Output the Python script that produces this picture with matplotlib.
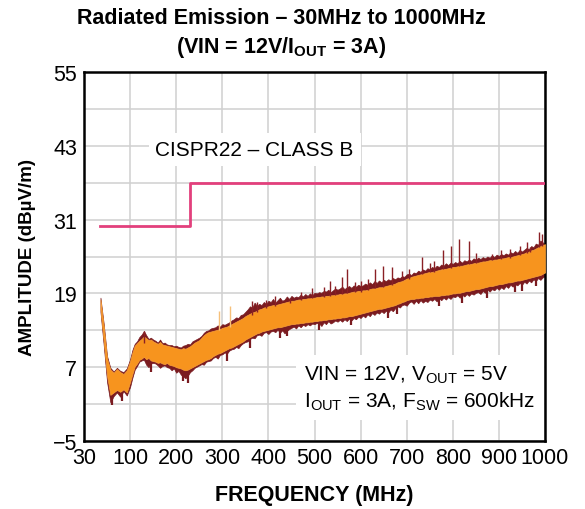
import numpy as np
import matplotlib
matplotlib.use("Agg")
import matplotlib.pyplot as plt

plt.rcParams['font.family'] = ['Liberation Sans', 'DejaVu Sans']
plt.rcParams['mathtext.fontset'] = 'custom'
plt.rcParams['mathtext.rm'] = 'Liberation Sans'
plt.rcParams['mathtext.bf'] = 'Liberation Sans:bold'

# ---------------- data ----------------
freq = [55, 60, 65, 70, 75, 80, 85, 90, 95, 100,
        105, 110, 115, 120, 125, 130, 135, 140, 145, 150,
        155, 160, 165, 170, 175, 180, 185, 190, 195, 200,
        205, 210, 215, 220, 225, 230, 235, 240, 245, 250,
        255, 260, 265, 270, 275, 280, 285, 290, 295, 300,
        305, 310, 315, 320, 325, 330, 335, 340, 345, 350,
        355, 360, 365, 370, 375, 380, 385, 390, 395, 400,
        405, 410, 415, 420, 425, 430, 435, 440, 445, 450,
        455, 460, 465, 470, 475, 480, 485, 490, 495, 500,
        505, 510, 515, 520, 525, 530, 535, 540, 545, 550,
        555, 560, 565, 570, 575, 580, 585, 590, 595, 600,
        605, 610, 615, 620, 625, 630, 635, 640, 645, 650,
        655, 660, 665, 670, 675, 680, 685, 690, 695, 700,
        705, 710, 715, 720, 725, 730, 735, 740, 745, 750,
        755, 760, 765, 770, 775, 780, 785, 790, 795, 800,
        805, 810, 815, 820, 825, 830, 835, 840, 845, 850,
        855, 860, 865, 870, 875, 880, 885, 890, 895, 900,
        905, 910, 915, 920, 925, 930, 935, 940, 945, 950,
        955, 960, 965, 970, 975, 980, 985, 990, 995, 1000]

# orange trace (band limits), dBuV/m
orange_lo = [16.4, 11.2, 5.6, 2.5, 2.9, 3.3, 3.0, 3.4, 2.9, 4.6,
             5.9, 7.1, 7.6, 8.2, 8.4, 8.7, 8.3, 8.5, 8.1, 8.0,
             7.9, 7.7, 7.8, 7.6, 7.5, 7.7, 7.4, 7.3, 7.2, 7.0,
             6.9, 6.8, 6.6, 6.5, 6.6, 6.8, 7.0, 7.2, 7.4, 7.6,
             7.8, 8.0, 8.2, 8.3, 8.5, 8.8, 9.0, 9.2, 9.3, 9.5,
             9.7, 9.9, 10.1, 10.2, 10.4, 10.6, 10.8, 11.0, 11.2, 11.5,
             11.7, 11.9, 12.1, 12.3, 12.5, 12.6, 12.8, 12.9, 13.0, 13.1,
             13.2, 13.3, 13.4, 13.5, 13.5, 13.6, 13.7, 13.8, 13.9, 14.0,
             14.0, 14.1, 14.1, 14.2, 14.2, 14.3, 14.3, 14.4, 14.4, 14.5,
             14.5, 14.6, 14.6, 14.7, 14.7, 14.8, 14.8, 14.9, 14.9, 15.0,
             15.0, 15.1, 15.1, 15.2, 15.3, 15.3, 15.4, 15.5, 15.6, 15.7,
             15.8, 15.9, 16.0, 16.1, 16.2, 16.3, 16.4, 16.5, 16.5, 16.6,
             16.7, 16.8, 16.9, 17.0, 17.1, 17.3, 17.4, 17.6, 17.7, 17.9,
             18.0, 18.1, 18.1, 18.2, 18.2, 18.3, 18.3, 18.4, 18.4, 18.5,
             18.5, 18.6, 18.6, 18.6, 18.7, 18.7, 18.8, 18.8, 18.9, 19.0,
             19.0, 19.1, 19.1, 19.2, 19.3, 19.4, 19.4, 19.5, 19.6, 19.7,
             19.7, 19.8, 19.9, 20.0, 20.1, 20.2, 20.2, 20.3, 20.4, 20.5,
             20.5, 20.6, 20.7, 20.8, 20.8, 20.9, 21.0, 21.1, 21.1, 21.2,
             21.3, 21.4, 21.5, 21.6, 21.7, 21.8, 21.9, 22.0, 22.2, 22.4]
orange_hi = [18.0, 13.6, 8.4, 6.6, 6.1, 6.7, 6.2, 5.9, 6.5, 8.0,
             9.4, 10.5, 10.9, 11.3, 11.6, 12.0, 11.7, 11.4, 11.5, 11.2,
             11.0, 10.8, 11.1, 10.7, 10.6, 10.5, 10.4, 10.3, 10.2, 10.1,
             10.0, 9.9, 10.1, 10.0, 10.2, 10.4, 10.7, 11.0, 11.2, 11.4,
             11.8, 12.2, 12.5, 12.7, 12.8, 12.9, 13.0, 13.1, 13.2, 13.4,
             13.5, 13.6, 13.8, 14.0, 14.2, 14.4, 14.6, 14.8, 15.0, 15.3,
             15.5, 15.7, 15.9, 16.0, 16.2, 16.4, 16.5, 16.7, 16.8, 16.9,
             17.0, 17.1, 17.1, 17.2, 17.3, 17.4, 17.5, 17.6, 17.7, 17.8,
             17.8, 17.9, 18.0, 18.0, 18.1, 18.1, 18.2, 18.2, 18.3, 18.3,
             18.4, 18.4, 18.5, 18.5, 18.6, 18.6, 18.7, 18.7, 18.8, 18.8,
             18.9, 18.9, 19.0, 19.0, 19.1, 19.2, 19.3, 19.3, 19.4, 19.4,
             19.5, 19.5, 19.6, 19.7, 19.8, 19.8, 19.9, 20.0, 20.0, 20.1,
             20.2, 20.3, 20.4, 20.5, 20.6, 20.8, 20.9, 21.0, 21.2, 21.4,
             21.5, 21.7, 21.8, 21.9, 22.0, 22.1, 22.2, 22.3, 22.4, 22.5,
             22.5, 22.6, 22.7, 22.8, 22.9, 23.0, 23.0, 23.1, 23.2, 23.3,
             23.3, 23.4, 23.5, 23.5, 23.6, 23.7, 23.8, 23.8, 23.9, 24.0,
             24.0, 24.1, 24.2, 24.2, 24.3, 24.4, 24.4, 24.5, 24.5, 24.6,
             24.7, 24.7, 24.8, 24.9, 24.9, 25.0, 25.1, 25.2, 25.3, 25.4,
             25.5, 25.7, 25.8, 26.0, 26.1, 26.3, 26.5, 26.7, 26.9, 27.0]

# dark red trace (outer noisy limits), dBuV/m
maroon_lo = [16.0, 10.5, 4.6, 1.3, 2.3, 2.9, 2.2, 3.1, 2.4, 3.8,
             5.3, 6.6, 7.2, 7.9, 8.1, 8.2, 7.4, 7.0, 7.6, 7.7,
             7.6, 7.3, 6.9, 7.2, 7.3, 7.0, 6.9, 6.5, 6.8, 6.1,
             6.4, 5.8, 5.5, 5.2, 5.6, 6.2, 6.5, 6.9, 7.1, 7.3,
             7.5, 7.4, 7.9, 8.0, 8.1, 8.5, 8.7, 8.4, 9.0, 9.1,
             9.4, 9.2, 9.7, 9.9, 10.0, 10.3, 10.1, 10.6, 10.9, 11.1,
             11.2, 11.6, 11.8, 11.7, 12.2, 12.3, 12.1, 12.6, 12.7, 12.4,
             12.8, 12.9, 12.7, 13.1, 12.6, 13.0, 12.5, 12.9, 13.2, 13.4,
             13.6, 13.3, 13.8, 13.5, 13.9, 13.7, 14.0, 13.8, 14.1, 14.0,
             14.2, 14.1, 13.7, 14.3, 14.0, 14.5, 14.1, 14.3, 14.6, 14.4,
             14.7, 14.4, 14.8, 14.5, 14.9, 14.6, 15.0, 14.8, 15.2, 15.0,
             15.4, 15.1, 15.6, 15.3, 15.8, 15.5, 15.9, 15.7, 16.1, 15.8,
             16.2, 15.9, 16.4, 16.1, 16.6, 16.9, 16.7, 17.1, 17.2, 17.0,
             17.5, 17.7, 17.3, 17.8, 17.4, 17.9, 17.5, 17.8, 17.6, 18.0,
             17.8, 18.1, 17.7, 18.2, 17.9, 18.3, 18.0, 18.4, 18.1, 18.5,
             18.4, 18.7, 18.3, 18.8, 18.5, 18.9, 18.6, 19.0, 18.8, 19.1,
             19.2, 18.9, 19.4, 19.1, 19.6, 19.3, 19.7, 19.5, 19.9, 19.6,
             20.0, 19.7, 20.2, 19.9, 20.4, 20.1, 20.5, 20.3, 20.7, 20.4,
             20.9, 20.6, 21.1, 20.8, 21.3, 21.0, 21.5, 21.2, 21.6, 21.8]
maroon_hi = [18.3, 14.0, 8.8, 6.9, 6.3, 6.9, 6.4, 6.2, 6.8, 8.3,
             9.8, 10.8, 11.2, 11.9, 12.3, 12.9, 12.2, 11.6, 11.8, 11.5,
             11.3, 11.0, 11.5, 10.9, 11.0, 10.7, 10.6, 10.6, 10.4, 10.5,
             10.3, 10.2, 10.5, 10.6, 10.8, 10.7, 11.2, 11.4, 11.6, 11.8,
             12.1, 12.6, 12.9, 13.0, 13.3, 13.4, 13.5, 13.8, 13.6, 14.0,
             13.9, 14.1, 14.3, 14.6, 14.8, 15.1, 15.0, 15.5, 15.6, 16.0,
             16.4, 16.9, 16.7, 17.5, 17.0, 17.3, 17.1, 17.6, 17.3, 17.8,
             17.6, 18.1, 17.5, 17.9, 18.3, 17.8, 18.0, 18.5, 18.1, 18.6,
             18.3, 18.5, 18.4, 18.8, 18.5, 18.9, 18.6, 19.0, 18.7, 19.1,
             19.0, 19.2, 19.1, 19.4, 19.3, 19.6, 19.2, 19.5, 19.8, 19.6,
             19.8, 20.1, 19.7, 20.0, 20.2, 19.9, 20.3, 20.1, 20.4, 20.2,
             20.3, 20.6, 20.4, 20.8, 20.5, 21.0, 20.7, 21.1, 20.8, 21.2,
             21.0, 21.3, 21.1, 21.5, 21.3, 21.6, 21.5, 21.8, 21.7, 22.1,
             22.2, 22.0, 22.4, 22.3, 22.7, 22.5, 22.9, 22.7, 23.1, 22.9,
             23.3, 23.1, 23.5, 23.3, 23.7, 23.5, 23.9, 23.6, 24.0, 23.8,
             24.1, 23.9, 24.3, 24.0, 24.4, 24.2, 24.5, 24.3, 24.7, 24.5,
             24.8, 24.6, 24.9, 24.7, 25.0, 24.8, 25.2, 24.9, 25.3, 25.1,
             25.4, 25.2, 25.5, 25.3, 25.7, 25.5, 25.9, 25.6, 26.1, 25.8,
             26.1, 26.4, 26.2, 26.7, 26.5, 27.1, 26.9, 27.6, 27.3, 27.0]

# narrow upward spurs (dark red)
spur_freq = [130, 365, 375, 395, 415, 447, 470, 495, 520, 534, 545, 560, 571, 588, 600, 615,
             631, 649, 668, 690, 705, 733, 750, 760, 779, 796, 813, 835, 850, 885, 905, 925,
             946, 960, 967, 988, 993]
spur_base = [11.0, 15.5, 16.0, 16.6, 17.0, 17.5, 17.9, 18.2, 18.4, 18.6, 18.7, 18.9, 19.0, 19.2, 19.3, 19.5,
             19.8, 20.1, 20.4, 21.1, 21.4, 22.1, 22.4, 22.5, 23.0, 23.2, 23.5, 23.8, 23.9, 24.4, 24.6, 24.8,
             25.2, 25.6, 25.8, 26.5, 26.7]
spur_top  = [12.9, 17.8, 17.6, 18.0, 18.6, 18.2, 19.3, 19.8, 20.0, 21.0, 20.2, 21.6, 23.0, 20.8, 21.0, 21.3,
             23.0, 23.4, 23.3, 22.6, 23.0, 25.0, 24.0, 24.3, 26.0, 26.7, 27.8, 27.5, 25.5, 25.4, 26.0, 26.3,
             26.7, 27.4, 26.5, 29.0, 28.6]

# narrow downward dips (dark red)
dip_freq   = [72, 88, 145, 215, 225, 310, 360, 425, 440, 510, 580, 660, 680, 770, 820, 875, 935, 950, 980]
dip_top    = [3.0, 3.2, 8.1, 6.7, 6.6, 9.9, 11.9, 13.5, 13.8, 14.6, 15.3, 16.8, 17.3, 18.6, 19.2, 20.0, 21.0, 21.2, 21.8]
dip_bottom = [0.8, 1.5, 6.3, 4.7, 4.4, 8.0, 10.2, 11.8, 12.0, 13.0, 13.8, 15.0, 15.7, 17.0, 17.5, 18.3, 19.3, 19.4, 20.2]

# narrow spurs (light orange)
light_spur_freq = [293, 317]
light_spur_base = [13.0, 13.6]
light_spur_top  = [16.2, 17.0]

# CISPR22 class B limit
limit_freq  = [54, 230, 230, 1000]
limit_level = [30, 30, 37, 37]

x_ticks = [30, 100, 200, 300, 400, 500, 600, 700, 800, 900, 1000]
y_ticks = [-5, 7, 19, 31, 43, 55]
y_minor = [1, 13, 25, 37, 49]

# ---------------- axis scale: equal spacing per division ----------------
def fwd(f):
    f = np.asarray(f, dtype=float)
    return np.where(f < 100, (f - 30) / 70.0, 1 + (f - 100) / 100.0)

def inv(d):
    d = np.asarray(d, dtype=float)
    return np.where(d < 1, 30 + 70.0 * d, 100 + 100.0 * (d - 1))

fig = plt.figure(figsize=(5.85, 5.10), dpi=100)
ax = fig.add_axes([84 / 585, 1 - 442 / 510, 461 / 585, 369 / 510])
ax.set_xscale('function', functions=(fwd, inv))
ax.set_xlim(30, 1000)
ax.set_ylim(-5, 55)

ax.set_xticks(x_ticks)
ax.set_xticklabels([str(t) for t in x_ticks])
ax.set_yticks(y_ticks)
ax.set_yticks(y_minor, minor=True)
ax.grid(True, which='both', color='#d0d0d0', linewidth=1.1)
ax.set_axisbelow(True)
ax.tick_params(which='both', length=0, labelsize=15.5)
ax.tick_params(axis='y', pad=5)
ax.tick_params(axis='x', pad=4)

for s in ax.spines.values():
    s.set_linewidth(1.8)
    s.set_color('black')

ax.fill_between(freq, maroon_lo, maroon_hi, color='#7a1b20', linewidth=0.5, edgecolor='#7a1b20', zorder=2)
ax.vlines(dip_freq, dip_bottom, dip_top, color='#7a1b20', linewidth=1.6, zorder=2)
ax.fill_between(freq, orange_lo, orange_hi, color='#f7941e', linewidth=0.5, edgecolor='#f9a23a', zorder=3)
ax.vlines(spur_freq, spur_base, spur_top, color='#8a2025', linewidth=1.0, zorder=3)
ax.vlines(light_spur_freq, light_spur_base, light_spur_top, color='#f6c07a', linewidth=1.0, zorder=3)

ax.plot(limit_freq, limit_level, color='#e2407c', linewidth=2.0, zorder=4)

ax.text(0.155, 0.79, 'CISPR22 – CLASS B', transform=ax.transAxes, fontsize=15,
        va='center', ha='left', zorder=5,
        bbox=dict(facecolor='white', edgecolor='none', pad=5))
ax.text(0.478, 0.145,
        'VIN = 12V, V$_\\mathregular{OUT}$ = 5V\nI$_\\mathregular{OUT}$ = 3A, F$_\\mathregular{SW}$ = 600kHz',
        transform=ax.transAxes, fontsize=15, va='center', ha='left', linespacing=1.25, zorder=5,
        bbox=dict(facecolor='white', edgecolor='none', pad=6))

ax.set_xlabel('FREQUENCY (MHz)', fontsize=15.5, fontweight='bold', labelpad=12)
ax.set_ylabel('AMPLITUDE (dBµV/m)', fontsize=13.5, fontweight='bold', labelpad=12)

fig.text(281 / 585, 1 - 19 / 510, 'Radiated Emission – 30MHz to 1000MHz',
         fontsize=15.5, fontweight='bold', ha='center', va='center')
fig.text(281 / 585, 1 - 47 / 510, '(VIN = 12V/I$_\\mathregular{OUT}$ = 3A)',
         fontsize=15.5, fontweight='bold', ha='center', va='center')

fig.savefig('out.png', dpi=100)
